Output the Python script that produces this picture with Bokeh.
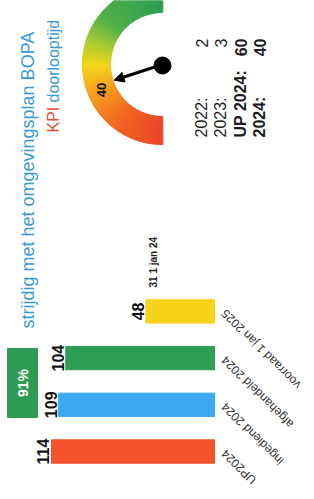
import math
from bokeh.plotting import figure
from bokeh.models import Range1d, ColumnDataSource, Arrow, NormalHead
from bokeh.core.properties import value
from bokeh.embed import file_html
from bokeh.resources import INLINE

# ---- data ----
categories = ["UP2024", "ingediend 2024", "afgehandeld 2024", "voorraad 1 jan 2025"]
counts = [114, 109, 104, 48]
bar_colors = ["#f2532a", "#3da9f0", "#2f9e55", "#f7d31c"]
stat_labels = ["2022:", "2023:", "UP 2024:", "2024:"]
stat_values = [2, 3, 60, 40]
kpi_value = 40
kpi_max = 100
pct_done = round(100 * counts[2] / counts[0])

FONT = value("Liberation Sans")
W, H = 314, 499
PX = 1.43  # pixels per unit of count
x0 = 214   # baseline pixel
y0 = 451   # center of first category (pixel from top)
dy = 46.7

p = figure(width=W, height=H, output_backend="svg", toolbar_location=None,
           x_axis_location=None, y_axis_location=None, min_border=0,
           x_range=Range1d(x0 / PX, -(W - x0) / PX),
           y_range=Range1d(-(H - y0) / dy, y0 / dy))
p.grid.visible = False
p.outline_line_color = None
p.background_fill_color = "white"
p.border_fill_color = "white"
# pixel-space ranges (image coordinates) for decorations
p.extra_x_ranges["px"] = Range1d(0, W)
p.extra_y_ranges["px"] = Range1d(H, 0)

idx = list(range(len(categories)))
src = ColumnDataSource(dict(y=idx, v=counts, c=bar_colors, cat=categories,
                            lab=[str(v) for v in counts]))
p.hbar(y="y", left=0, right="v", height=0.5, color="c", source=src)
p.text(x="v", y="y", text="lab", source=src, angle=math.pi / 2,
       text_align="center", text_baseline="bottom", x_offset=-2,
       text_font=FONT, text_font_style="bold", text_font_size="16px", text_color="#111111")
# category labels: x in pixel space, y on the category scale
p.text(x=223, y="y", text="cat", source=src, angle=3 * math.pi / 4,
       text_align="right", text_baseline="middle", x_range_name="px",
       text_font=FONT, text_font_size="12px", text_color="#333333")

# percentage badge
p.rect(x=22, y=382.5, width=30, height=69, width_units="screen", height_units="screen",
       color="#2e9b52", x_range_name="px", y_range_name="px")
p.text(x=[22], y=[382.5], text=[f"{pct_done}%"], angle=math.pi / 2,
       text_align="center", text_baseline="middle", text_font=FONT,
       text_font_style="bold", text_font_size="14px", text_color="white",
       x_range_name="px", y_range_name="px")

# date note
p.text(x=[153], y=[287], text=["31 1 jan 24"], angle=math.pi / 2,
       text_align="left", text_baseline="middle", text_font=FONT,
       text_font_style="bold", text_font_size="10px", text_color="#222222",
       x_range_name="px", y_range_name="px")

# titles
p.text(x=[27], y=[328], text=["strijdig met het omgevingsplan BOPA"], angle=math.pi / 2,
       text_align="left", text_baseline="middle", text_font=FONT,
       text_font_size="18px", text_color="#3b9ad6", x_range_name="px", y_range_name="px")
p.text(x=[53], y=[132], text=["KPI"], angle=math.pi / 2,
       text_align="left", text_baseline="middle", text_font=FONT,
       text_font_size="16px", text_color="#e54b3c", x_range_name="px", y_range_name="px")
p.text(x=[53], y=[102], text=["doorlooptijd"], angle=math.pi / 2,
       text_align="left", text_baseline="middle", text_font=FONT,
       text_font_size="16px", text_color="#3b9ad6", x_range_name="px", y_range_name="px")

# gauge
cx, cy = 162, 64
stops = [(0.0, (234, 70, 42)), (0.2, (242, 100, 34)), (0.38, (246, 160, 30)),
         (0.5, (244, 214, 28)), (0.6, (170, 204, 52)), (0.72, (80, 176, 72)),
         (1.0, (46, 158, 85))]

def grad(f):
    for (a, ca), (b, cb) in zip(stops[:-1], stops[1:]):
        if a <= f <= b:
            t = (f - a) / (b - a)
            return "#%02x%02x%02x" % tuple(int(ca[k] + (cb[k] - ca[k]) * t) for k in range(3))
    return "#2e9e55"

N = 90
sa, ea, cols = [], [], []
for k in range(N):
    f0, f1 = k / N, (k + 1) / N
    sa.append(math.radians(270 - 180 * f1) - 0.005)
    ea.append(math.radians(270 - 180 * f0) + 0.005)
    cols.append(grad((f0 + f1) / 2))
p.annular_wedge(x=cx, y=cy, inner_radius=52, outer_radius=80,
                inner_radius_units="screen", outer_radius_units="screen",
                start_angle=sa, end_angle=ea, color=cols,
                x_range_name="px", y_range_name="px")
ang = math.radians(270 - 180 * kpi_value / kpi_max)
rn = 51
tip_x = cx + rn * math.cos(ang)
tip_y = cy - rn * math.sin(ang)
p.add_layout(Arrow(end=NormalHead(size=10, fill_color="black", line_color="black"),
                   x_start=cx, y_start=cy, x_end=tip_x, y_end=tip_y,
                   line_width=3, line_color="black",
                   x_range_name="px", y_range_name="px"))
p.scatter(x=[cx], y=[cy + 1], size=17, color="black", x_range_name="px", y_range_name="px")
rl = 66
p.text(x=[cx + rl * math.cos(ang) + 2], y=[cy - rl * math.sin(ang) + 5], text=[str(kpi_value)],
       angle=math.pi / 2, text_align="center", text_baseline="middle", text_font=FONT,
       text_font_style="bold", text_font_size="13px", text_color="#111111",
       x_range_name="px", y_range_name="px")

# stats block
sx = [201, 220, 240, 259]
styles = ["normal", "normal", "bold", "bold"]
p.text(x=sx, y=[137] * 4, text=stat_labels, angle=math.pi / 2,
       text_align="left", text_baseline="middle", text_font=FONT,
       text_font_style=styles, text_font_size="16px", text_color="#1a1a1a",
       x_range_name="px", y_range_name="px")
p.text(x=sx, y=[38] * 4, text=[str(v) for v in stat_values], angle=math.pi / 2,
       text_align="right", text_baseline="middle", text_font=FONT,
       text_font_style=styles, text_font_size="16px", text_color="#1a1a1a",
       x_range_name="px", y_range_name="px")

open("out.html", "w").write(file_html(p, INLINE))
